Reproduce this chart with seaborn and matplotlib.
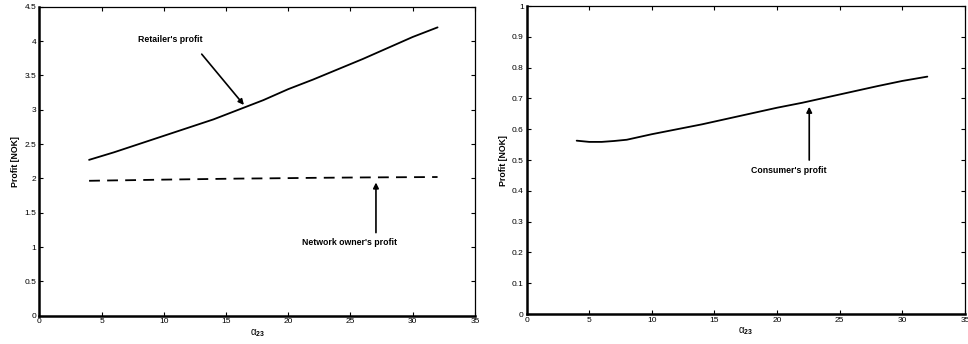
import numpy as np
import pandas as pd
import matplotlib
matplotlib.use("Agg")
import matplotlib.pyplot as plt
import seaborn as sns

# Data
alpha = [4, 5, 6, 7, 8, 10, 12, 14, 16, 18, 20, 22, 24, 26, 28, 30, 32]
retailer = [2.27, 2.325, 2.38, 2.44, 2.50, 2.62, 2.74, 2.86, 3.00, 3.14, 3.30, 3.44, 3.59, 3.74, 3.90, 4.06, 4.20]
network = [1.965, 1.968, 1.971, 1.973, 1.976, 1.982, 1.987, 1.992, 1.997, 2.000, 2.004, 2.008, 2.011, 2.014, 2.016, 2.018, 2.020]
consumer = [0.563, 0.559, 0.559, 0.562, 0.566, 0.584, 0.600, 0.616, 0.634, 0.652, 0.670, 0.686, 0.704, 0.722, 0.740, 0.757, 0.771]

xticks = [0, 5, 10, 15, 20, 25, 30, 35]
left_yticks = [0, 0.5, 1, 1.5, 2, 2.5, 3, 3.5, 4, 4.5]
right_yticks = [0, 0.1, 0.2, 0.3, 0.4, 0.5, 0.6, 0.7, 0.8, 0.9, 1]

sns.set_theme(style="white")
plt.rcParams['font.family'] = ['Liberation Sans', 'DejaVu Sans']
plt.rcParams['text.color'] = 'black'
plt.rcParams['axes.labelcolor'] = 'black'
plt.rcParams['mathtext.fontset'] = 'custom'
plt.rcParams['mathtext.rm'] = 'Liberation Sans'
plt.rcParams['mathtext.it'] = 'Liberation Sans'
plt.rcParams['mathtext.bf'] = 'Liberation Sans:bold'

df = pd.DataFrame({"alpha": alpha, "retailer": retailer, "network": network, "consumer": consumer})

fig = plt.figure(figsize=(9.68, 3.44), dpi=100)
ax1 = fig.add_axes([0.0406, 0.0823, 0.450, 0.898])
ax2 = fig.add_axes([0.544, 0.0872, 0.4528, 0.895])

sns.lineplot(data=df, x="alpha", y="retailer", ax=ax1, color="black", lw=1.3)
sns.lineplot(data=df, x="alpha", y="network", ax=ax1, color="black", lw=1.3, linestyle=(0, (6, 4)))
sns.lineplot(data=df, x="alpha", y="consumer", ax=ax2, color="black", lw=1.3)

def style(ax, yticks):
    ax.set_xlim(0, 35)
    ax.set_ylim(yticks[0], yticks[-1])
    ax.set_xticks(xticks)
    ax.set_yticks(yticks)
    ax.set_xticklabels([str(t) for t in xticks])
    ax.set_yticklabels([('%g' % t) for t in yticks])
    ax.tick_params(direction='in', length=3, width=0.8, labelsize=6, colors='black',
                   top=True, right=True, bottom=True, left=True, pad=2)
    for s in ['top', 'right']:
        ax.spines[s].set_linewidth(0.9)
        ax.spines[s].set_color('black')
    for s in ['bottom', 'left']:
        ax.spines[s].set_linewidth(1.8)
        ax.spines[s].set_color('black')
    ax.set_xlabel(r'$\alpha_{\mathbf{23}}$', fontsize=7, labelpad=1)
    ax.set_ylabel('Profit [NOK]', fontsize=6.3, fontweight='bold', labelpad=3)

style(ax1, left_yticks)
style(ax2, right_yticks)

arrowprops = dict(arrowstyle='-|>', color='black', lw=1.2, mutation_scale=8, shrinkA=0, shrinkB=0)
ax1.text(10.5, 4.03, "Retailer's profit", fontsize=6.3, fontweight='bold', ha='center', va='center')
ax1.annotate('', xy=(16.44, 3.07), xytext=(13.05, 3.81), arrowprops=arrowprops)
ax1.text(24.96, 1.07, "Network owner's profit", fontsize=6.3, fontweight='bold', ha='center', va='center')
ax1.annotate('', xy=(27.05, 1.94), xytext=(27.05, 1.21), arrowprops=arrowprops)
ax2.text(20.95, 0.465, "Consumer's profit", fontsize=6.3, fontweight='bold', ha='center', va='center')
ax2.annotate('', xy=(22.57, 0.673), xytext=(22.57, 0.50), arrowprops=arrowprops)

fig.savefig("out.png", dpi=100)
